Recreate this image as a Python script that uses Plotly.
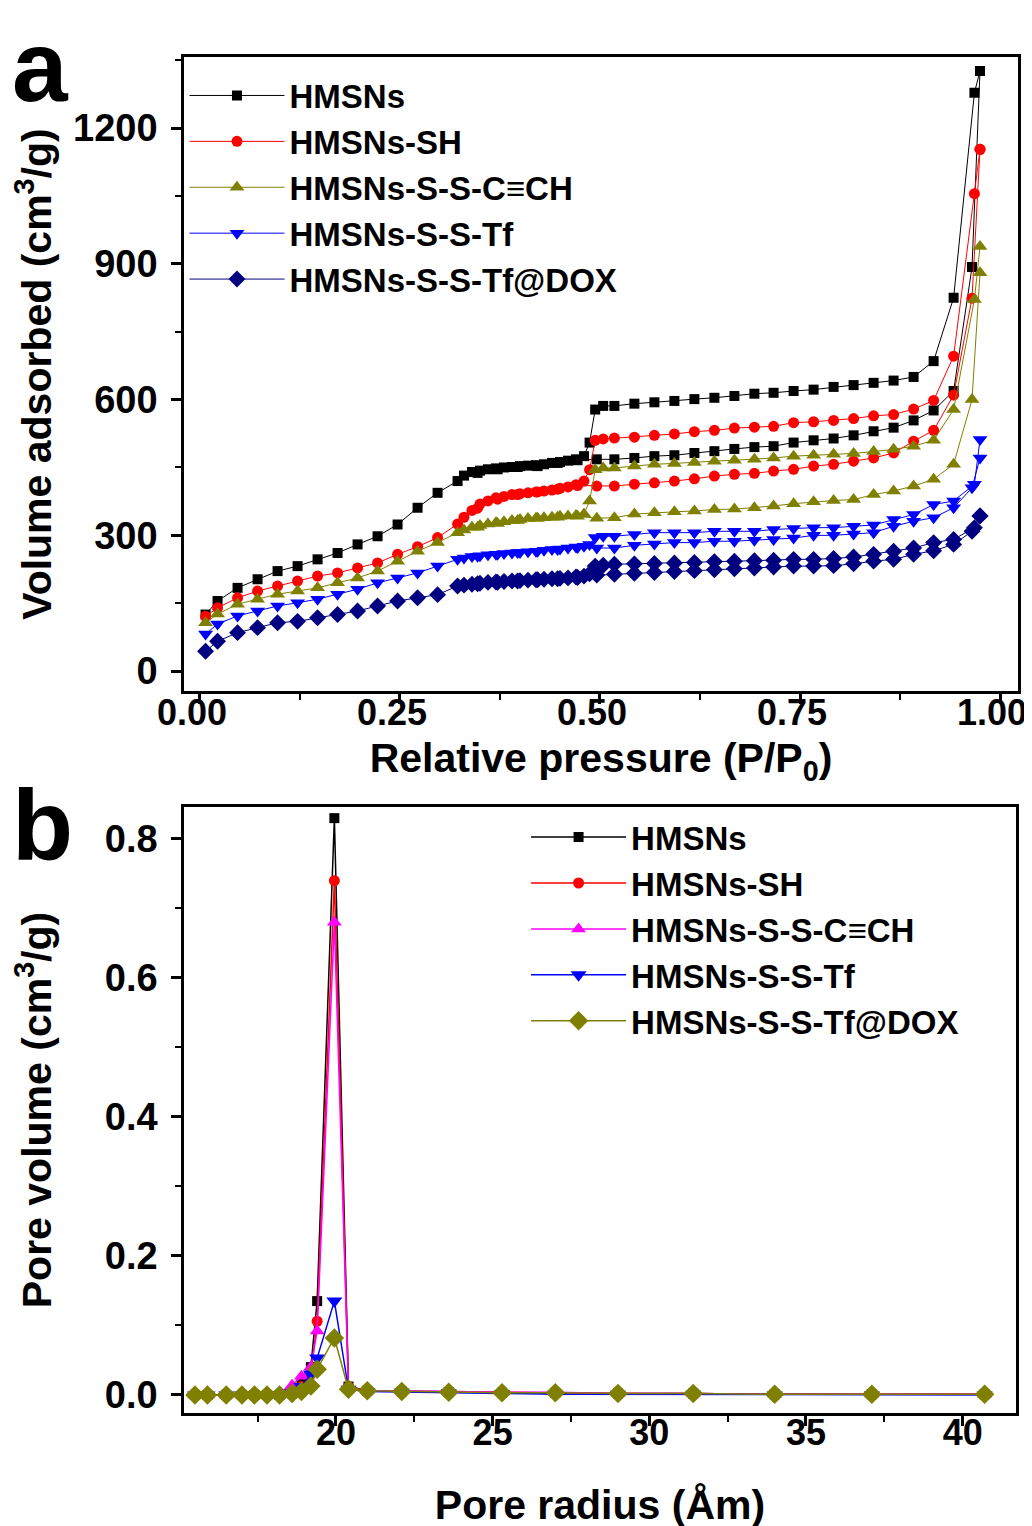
import plotly.graph_objects as go

# ---------------- Panel a: N2 isotherms ----------------
ads_x = [0.007, 0.022, 0.047, 0.072, 0.097, 0.122, 0.147, 0.172, 0.197, 0.222,
         0.247, 0.272, 0.297, 0.322, 0.347, 0.372, 0.397, 0.422, 0.447, 0.472,
         0.496, 0.518, 0.543, 0.568, 0.593, 0.618, 0.643, 0.668, 0.693, 0.717,
         0.742, 0.767, 0.792, 0.817, 0.842, 0.867, 0.892, 0.917, 0.942, 0.965, 0.975]
des_x = [0.975, 0.968, 0.942, 0.917, 0.892, 0.867, 0.842, 0.817, 0.792, 0.767,
         0.742, 0.717, 0.693, 0.668, 0.643, 0.618, 0.593, 0.568, 0.543, 0.518,
         0.504, 0.494, 0.487, 0.480, 0.470, 0.460, 0.450, 0.440, 0.430, 0.420,
         0.410, 0.400, 0.390, 0.380, 0.370, 0.360, 0.350, 0.340, 0.330]

hmsns_ads = [125, 155, 184, 203, 221, 232, 247, 261, 280, 298,
             324, 361, 394, 420, 438, 446, 451, 453, 460, 466,
             468, 468, 471, 475, 477, 482, 486, 491, 495, 497,
             505, 510, 514, 521, 530, 538, 554, 576, 619, 893, 1326]
hmsns_des = [1326, 1278, 825, 685, 650, 642, 637, 632, 628, 622,
             619, 615, 613, 608, 604, 601, 597, 594, 591, 586,
             586, 578, 505, 475, 468, 465, 462, 460, 457, 455,
             454, 453, 451, 450, 448, 446, 443, 440, 432]

sh_ads = [121, 140, 162, 177, 188, 199, 210, 217, 228, 239,
          258, 275, 295, 325, 360, 380, 390, 396, 402, 410,
          409, 409, 413, 416, 420, 425, 431, 435, 437, 442,
          446, 453, 457, 464, 471, 482, 508, 532, 610, 824, 1153]
sh_des = [1153, 1055, 696, 598, 579, 567, 564, 558, 554, 551,
          549, 541, 539, 537, 532, 529, 524, 521, 517, 515,
          513, 510, 445, 420, 412, 407, 404, 400, 398, 396,
          394, 392, 390, 386, 383, 376, 369, 355, 340]

cch_ads = [107, 126, 148, 159, 170, 177, 184, 195, 206, 221,
           243, 265, 284, 306, 318, 326, 333, 338, 340, 342,
           338, 339, 347, 350, 352, 354, 357, 358, 361, 365,
           370, 374, 377, 379, 390, 398, 409, 424, 457, 600, 880]
cch_des = [938, 821, 578, 510, 497, 490, 485, 481, 479, 477,
           475, 471, 468, 466, 464, 461, 459, 457, 453, 449,
           449, 445, 376, 347, 344, 343, 342, 340, 339, 338,
           337, 335, 333, 330, 328, 325, 322, 318, 312]

tf_ads = [82, 104, 122, 133, 144, 151, 159, 170, 181, 195,
          206, 217, 232, 247, 254, 258, 262, 265, 269, 273,
          272, 272, 278, 281, 284, 284, 287, 287, 289, 291,
          294, 300, 300, 303, 306, 320, 331, 339, 361, 405, 471]
tf_des = [512, 413, 376, 368, 346, 335, 323, 320, 317, 317,
          315, 313, 309, 309, 309, 306, 306, 306, 302, 298,
          298, 295, 280, 276, 274, 272, 270, 269, 267, 265,
          264, 262, 261, 260, 258, 257, 255, 253, 250]

dox_ads = [44, 66, 85, 96, 107, 110, 118, 125, 133, 144,
           155, 162, 169, 188, 193, 196, 199, 202, 204, 207,
           212, 214, 216, 218, 220, 222, 224, 226, 228, 230,
           232, 232, 233, 237, 243, 247, 258, 266, 280, 309, 343]
dox_des = [343, 317, 291, 284, 272, 265, 258, 252, 249, 247,
           247, 245, 244, 243, 242, 240, 239, 238, 237, 236,
           234, 232, 215, 210, 208, 206, 205, 204, 203, 202,
           201, 200, 199, 198, 197, 196, 194, 192, 190]

# ---------------- Panel b: pore size distribution ----------------
pore_r = [15.5, 15.9, 16.5, 17.0, 17.4, 17.8, 18.2, 18.6, 18.9, 19.2,
          19.4, 19.95, 20.4, 21.0, 22.1, 23.6, 25.3, 27.0, 29.0, 31.4,
          34.0, 37.1, 40.7]
pv_hmsns = [0, 0, 0, 0, 0, 0, 0, 0.002, 0.016, 0.04,
            0.135, 0.83, 0.012, 0.006, 0.005, 0.004, 0.003, 0.003, 0.002, 0.002,
            0.001, 0.001, 0.001]
pv_sh = [0, 0, 0, 0, 0, 0, 0, 0.003, 0.012, 0.03,
         0.106, 0.74, 0.012, 0.006, 0.005, 0.005, 0.004, 0.003, 0.002, 0.002,
         0.001, 0.001, 0.001]
pv_cch = [0, 0, 0, 0, 0, 0, 0.004, 0.014, 0.027, 0.04,
          0.092, 0.68, 0.010, 0.006, 0.006, 0.005, 0.004, 0.004, 0.002, 0.002,
          0.001, 0.001, 0.001]
pv_tf = [0, 0, 0, 0, 0, 0, 0, 0.003, 0.012, 0.03,
         0.053, 0.135, 0.008, 0.005, 0.004, 0.003, 0.002, 0.001, 0.001, 0.001,
         0.0, 0.0, 0.0]
pv_dox = [0, 0, 0, 0, 0, 0, 0, 0.002, 0.005, 0.013,
          0.037, 0.082, 0.008, 0.006, 0.005, 0.004, 0.003, 0.003, 0.002, 0.002,
          0.001, 0.001, 0.001]

names = ["HMSNs", "HMSNs-SH", "HMSNs-S-S-C\u2261CH", "HMSNs-S-S-Tf", "HMSNs-S-S-Tf@DOX"]
colors_a = ["#000000", "#FF0000", "#808000", "#0000FF", "#000080"]
colors_b = ["#000000", "#FF0000", "#FF00FF", "#0000FF", "#808000"]
symbols_a = ["square", "circle", "triangle-up", "triangle-down", "diamond"]
sizes_a = [10, 11, 13, 13, 13]
sizes_b = [10, 11, 13, 14, 15]

FONT = "Liberation Sans, Arial, sans-serif"

fig = go.Figure()

ads_all = [hmsns_ads, sh_ads, cch_ads, tf_ads, dox_ads]
des_all = [hmsns_des, sh_des, cch_des, tf_des, dox_des]
for i in range(5):
    fig.add_trace(go.Scatter(
        x=ads_x, y=ads_all[i], mode="lines+markers", name=names[i],
        legendgroup="a%d" % i, legend="legend",
        line=dict(color=colors_a[i], width=1),
        marker=dict(symbol=symbols_a[i], size=sizes_a[i], color=colors_a[i]),
        xaxis="x", yaxis="y"))
    fig.add_trace(go.Scatter(
        x=des_x, y=des_all[i], mode="lines+markers", name=names[i],
        legendgroup="a%d" % i, showlegend=False,
        line=dict(color=colors_a[i], width=1),
        marker=dict(symbol=symbols_a[i], size=sizes_a[i], color=colors_a[i]),
        xaxis="x", yaxis="y"))

pv_all = [pv_hmsns, pv_sh, pv_cch, pv_tf, pv_dox]
for i in range(5):
    fig.add_trace(go.Scatter(
        x=pore_r, y=pv_all[i], mode="lines+markers", name=names[i],
        legend="legend2",
        line=dict(color=colors_b[i], width=1.5),
        marker=dict(symbol=symbols_a[i], size=sizes_b[i], color=colors_b[i]),
        xaxis="x2", yaxis="y2"))

axis_common = dict(showline=True, linewidth=2.5, linecolor="black", mirror=True,
                   ticks="outside", ticklen=10, tickwidth=2.5, tickcolor="black",
                   showgrid=False, zeroline=False, automargin=False,
                   title_font=dict(family=FONT, size=41, color="black", weight="bold"))
xtick_font = dict(family=FONT, size=36, color="black", weight="bold")
ytick_font = dict(family=FONT, size=38, color="black", weight="bold")
minor_common = dict(ticks="outside", ticklen=6, tickwidth=2, tickcolor="black", tick0=0)

fig.update_layout(
    width=1032, height=1526,
    margin=dict(l=0, r=0, t=0, b=0, autoexpand=False),
    paper_bgcolor="white", plot_bgcolor="white",
    font=dict(family=FONT, color="black"),
    xaxis=dict(domain=[0.1705, 0.9787], anchor="y", range=[-0.02, 1.0225],
               tick0=0, dtick=0.25, tickformat=".2f", ticklabelstandoff=-22,
               ticklabelshift=-8, tickfont=xtick_font,
               minor=dict(dtick=0.125, **minor_common),
               title=dict(text="Relative pressure (P/P<sub>0</sub>)", standoff=12),
               **axis_common),
    yaxis=dict(domain=[0.5524, 0.9679], anchor="x", range=[-44, 1357],
               tick0=0, dtick=300, ticklabelstandoff=6, tickfont=ytick_font,
               minor=dict(dtick=150, **minor_common),
               title=dict(text="Volume adsorbed (cm<sup>3</sup>/g)", standoff=12),
               **axis_common),
    xaxis2=dict(domain=[0.1705, 0.9767], anchor="y2", range=[15.15, 41.7],
                tick0=0, dtick=5, ticklabelstandoff=-24, tickfont=xtick_font,
                minor=dict(dtick=2.5, **minor_common),
                title=dict(text="Pore radius (\u00c5m)", standoff=39),
                **axis_common),
    yaxis2=dict(domain=[0.0793, 0.4764], anchor="x2", range=[-0.026, 0.846],
                tick0=0, dtick=0.2, tickformat=".1f", ticklabelstandoff=6, tickfont=ytick_font,
                minor=dict(dtick=0.1, **minor_common),
                title=dict(text="Pore volume (cm<sup>3</sup>/g)", standoff=42),
                **axis_common),
    legend=dict(x=0.171, y=0.961, xanchor="left", yanchor="top",
                bgcolor="rgba(0,0,0,0)", borderwidth=0, tracegroupgap=0,
                itemwidth=95,
                font=dict(family=FONT, size=33, color="black", weight="bold")),
    legend2=dict(x=0.502, y=0.475, xanchor="left", yanchor="top",
                 bgcolor="rgba(0,0,0,0)", borderwidth=0, tracegroupgap=0,
                 itemwidth=95,
                 font=dict(family=FONT, size=33, color="black", weight="bold")),
    annotations=[
        dict(text="a", x=0.002, y=1.0, xref="paper", yref="paper", xanchor="left", yanchor="top",
             showarrow=False, font=dict(family=FONT, size=100, color="black", weight="bold")),
        dict(text="b", x=0.002, y=0.5026, xref="paper", yref="paper", xanchor="left", yanchor="top",
             showarrow=False, font=dict(family=FONT, size=100, color="black", weight="bold")),
    ],
)

fig.write_html("out.html")
